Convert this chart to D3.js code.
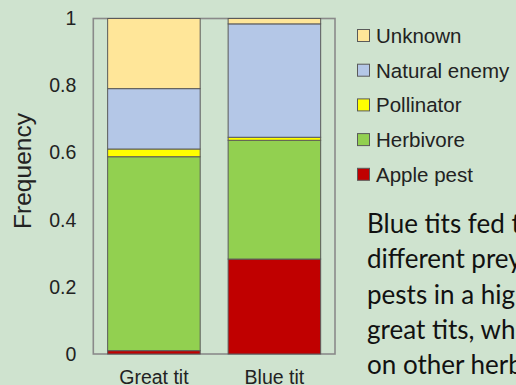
<!DOCTYPE html>
<html>
<head>
<meta charset="utf-8">
<script src="https://cdn.jsdelivr.net/npm/d3@7"></script>
<style>
  html, body { margin: 0; padding: 0; background: #cfe3cf; overflow: hidden; }
  svg { display: block; }
</style>
</head>
<body>
<svg id="chart" width="516" height="385"></svg>
<script>
// Diet composition of nestling food, by bird species
const species = ["Great tit", "Blue tit"];
const groups = ["Apple pest", "Herbivore", "Pollinator", "Natural enemy", "Unknown"];
const applePest    = [0.010, 0.283];
const herbivore    = [0.578, 0.354];
const pollinator   = [0.023, 0.009];
const naturalEnemy = [0.180, 0.338];
const unknown      = [0.209, 0.016];
const groupColors  = ["#c00000", "#92d050", "#ffff00", "#b4c7e7", "#ffe699"];
const yTicks       = [0, 0.2, 0.4, 0.6, 0.8, 1];
const noteLines = [
  "Blue tits fed their",
  "different prey, more apple",
  "pests in a higher share than",
  "great tits, which fed more",
  "on other herbivores"
];

const rows = species.map((s, i) => ({
  species: s,
  "Apple pest": applePest[i],
  "Herbivore": herbivore[i],
  "Pollinator": pollinator[i],
  "Natural enemy": naturalEnemy[i],
  "Unknown": unknown[i]
}));

const svg = d3.select("#chart");
const plot = { left: 93.3, right: 335, top: 18.5, bottom: 354 };

const x = d3.scaleBand().domain(species).range([plot.left, plot.right])
  .paddingInner(0.232).paddingOuter(0.119);
const y = d3.scaleLinear().domain([0, 1]).range([plot.bottom, plot.top]);
const color = d3.scaleOrdinal().domain(groups).range(groupColors);

// plot frame
svg.append("rect")
  .attr("x", plot.left).attr("y", plot.top)
  .attr("width", plot.right - plot.left).attr("height", plot.bottom - plot.top)
  .attr("fill", "none").attr("stroke", "#8a8a8a").attr("stroke-width", 1.6);

// stacked bars
const stacked = d3.stack().keys(groups)(rows);
svg.append("g").selectAll("g").data(stacked).join("g")
  .attr("fill", d => color(d.key))
  .selectAll("rect").data(d => d).join("rect")
  .attr("x", d => x(d.data.species))
  .attr("width", x.bandwidth())
  .attr("y", d => y(d[1]))
  .attr("height", d => y(d[0]) - y(d[1]))
  .attr("stroke", "#5a5a5a").attr("stroke-width", 1);

// y axis
const yAxis = svg.append("g").attr("transform", `translate(${plot.left},0)`)
  .call(d3.axisLeft(y).tickValues(yTicks).tickFormat(d3.format("")).tickSize(0).tickPadding(17));
yAxis.select(".domain").remove();
yAxis.selectAll("text")
  .attr("font-family", "Liberation Sans, Arial, sans-serif")
  .attr("font-size", "19.5px").attr("fill", "#222");

// x axis labels
const xAxis = svg.append("g").attr("transform", `translate(0,${plot.bottom})`)
  .call(d3.axisBottom(x).tickSize(0).tickPadding(0));
xAxis.select(".domain").remove();
xAxis.selectAll("text")
  .attr("y", 30).attr("dy", null)
  .attr("font-family", "Liberation Sans, Arial, sans-serif")
  .attr("font-size", "19.5px").attr("fill", "#222");

// y axis title
svg.append("text")
  .attr("transform", "translate(30.5,171) rotate(-90)")
  .attr("text-anchor", "middle")
  .attr("font-family", "Liberation Sans, Arial, sans-serif")
  .attr("font-size", "24.5px").attr("fill", "#222")
  .text("Frequency");

// legend, top entry first
const legendItems = groups.slice().reverse();
const legend = svg.append("g").selectAll("g").data(legendItems).join("g")
  .attr("transform", (d, i) => `translate(357.5,${35.5 + i * 34.7})`);
legend.append("rect")
  .attr("x", 0).attr("y", -6).attr("width", 12).attr("height", 12)
  .attr("fill", d => color(d)).attr("stroke", "#5a5a5a").attr("stroke-width", 1);
legend.append("text")
  .attr("x", 18.5).attr("y", 7.5)
  .attr("font-family", "Liberation Sans, Arial, sans-serif")
  .attr("font-size", "20.5px").attr("fill", "#222")
  .text(d => d);

// side note
svg.append("g").selectAll("text").data(noteLines).join("text")
  .attr("x", 367)
  .attr("y", (d, i) => 233 + i * 35.3)
  .attr("font-family", "Lato, 'Open Sans', sans-serif")
  .attr("font-size", "26px").attr("fill", "#111")
  .text(d => d);
</script>
</body>
</html>
